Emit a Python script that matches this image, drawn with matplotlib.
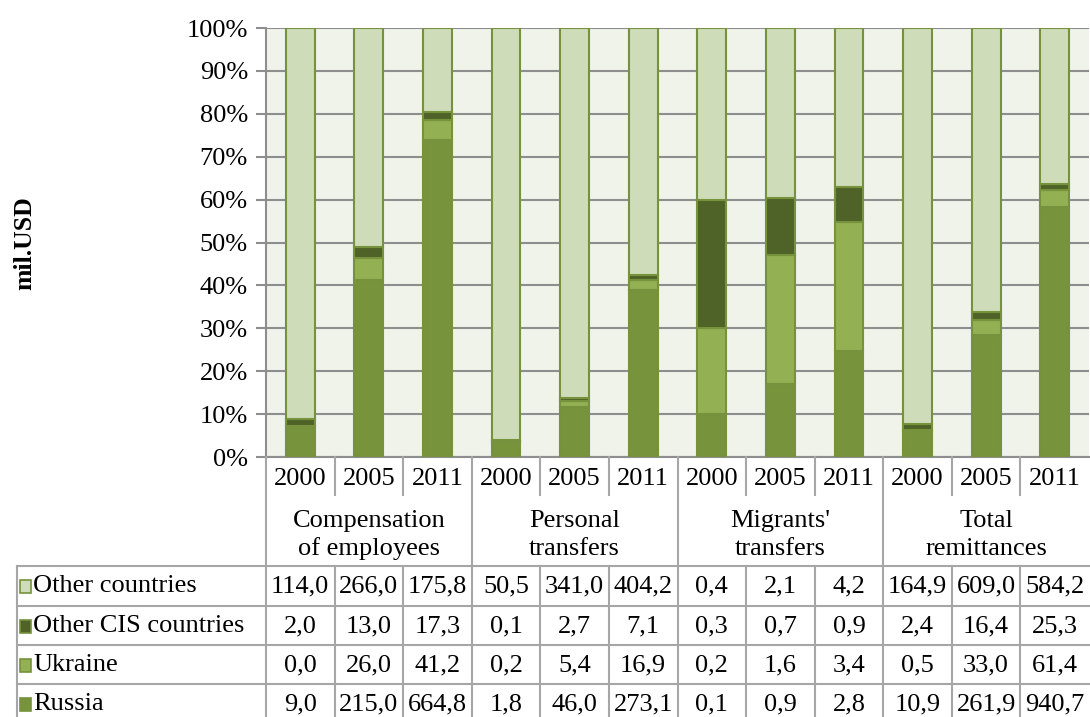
import matplotlib
matplotlib.use("Agg")
import matplotlib.pyplot as plt
from matplotlib.lines import Line2D
from matplotlib.patches import Rectangle
from matplotlib.transforms import blended_transform_factory
import numpy as np

plt.rcParams['font.family'] = ['Liberation Serif', 'DejaVu Serif']

groups = ["Compensation\nof employees", "Personal\ntransfers", "Migrants'\ntransfers", "Total\nremittances"]
years = ["2000", "2005", "2011"]
series_names = ["Other countries", "Other CIS countries", "Ukraine", "Russia"]

other_countries = [114.0, 266.0, 175.8, 50.5, 341.0, 404.2, 0.4, 2.1, 4.2, 164.9, 609.0, 584.2]
other_cis = [2.0, 13.0, 17.3, 0.1, 2.7, 7.1, 0.3, 0.7, 0.9, 2.4, 16.4, 25.3]
ukraine = [0.0, 26.0, 41.2, 0.2, 5.4, 16.9, 0.2, 1.6, 3.4, 0.5, 33.0, 61.4]
russia = [9.0, 215.0, 664.8, 1.8, 46.0, 273.1, 0.1, 0.9, 2.8, 10.9, 261.9, 940.7]

colors = {"Russia": "#77933C", "Ukraine": "#93B053", "Other CIS countries": "#4F6228",
          "Other countries": "#CFDCBA"}
edge = "#76923C"
grid_c = "#8E8E8E"
tab_c = "#A6A6A6"
FS = 19

W, H = 1090, 717
fig = plt.figure(figsize=(W / 100, H / 100), dpi=100)
left_px, right_px, top_px, bot_px = 266, 1089, 28, 457
ax = fig.add_axes([left_px / W, 1 - bot_px / H, (right_px - left_px) / W, (bot_px - top_px) / H])
ax.set_facecolor("#F0F3EA")

vals = {"Russia": np.array(russia), "Ukraine": np.array(ukraine),
        "Other CIS countries": np.array(other_cis), "Other countries": np.array(other_countries)}
total = sum(vals.values())
x = np.arange(len(russia))
bottom = np.zeros(len(russia))
for name in ["Russia", "Ukraine", "Other CIS countries", "Other countries"]:
    pct = vals[name] / total * 100
    ax.bar(x, pct, 0.42, bottom=bottom, color=colors[name], edgecolor=edge, linewidth=1.5, zorder=3)
    bottom = bottom + pct

ax.set_xlim(-0.5, len(russia) - 0.5)
ax.set_ylim(0, 100)
ax.set_yticks(np.arange(0, 101, 10))
ax.set_yticklabels([f"{v}%" for v in range(0, 101, 10)], fontsize=FS)
ax.yaxis.grid(True, color=grid_c, linewidth=1.5, zorder=0)
ax.set_xticks([])
ax.tick_params(axis='y', length=7, width=1.5, color=grid_c, pad=6)
for s in ["top", "right"]:
    ax.spines[s].set_visible(False)
for s in ["left", "bottom"]:
    ax.spines[s].set_color(grid_c)
    ax.spines[s].set_linewidth(1.5)

fig.text(25 / W, 1 - 243 / H, "mil.USD", rotation=90, fontsize=18.5, fontweight='bold',
         ha='center', va='center')

# table
trans = blended_transform_factory(ax.transData, fig.transFigure)
def fy(p):
    return 1 - p / H

def vline(xd, y0, y1):
    fig.add_artist(Line2D([xd, xd], [fy(y0), fy(y1)], transform=trans, color=tab_c, lw=1.5))

def hline_fig(x0p, x1d, yp):
    x0d = ax.transData.inverted().transform((x0p, 0))[0]
    fig.add_artist(Line2D([x0d, x1d], [fy(yp), fy(yp)], transform=trans, color=tab_c, lw=1.5))

n = len(russia)
for k in range(n):
    xd = k - 0.5
    if k % 3 == 0:
        vline(xd, bot_px, H + 2)
    else:
        vline(xd, bot_px, 495)
        vline(xd, 566, H + 2)

for i in range(n):
    fig.text(i, fy(479), years[i % 3], transform=trans, ha='center', va='center', fontsize=FS)
for g, lab in enumerate(groups):
    fig.text(g * 3 + 1, fy(535), lab, transform=trans, ha='center', va='center', fontsize=FS,
             linespacing=1.33)

row_lines = [566, 606, 645, 684]
for yp in row_lines:
    hline_fig(17, n - 0.5, yp)
fig.add_artist(Line2D([17 / W, 17 / W], [fy(566), fy(H + 2)], transform=fig.transFigure,
                      color=tab_c, lw=1.5))

row_centers = [586, 626, 665, 704]
for r, name in enumerate(series_names):
    yc = row_centers[r]
    fig.add_artist(Rectangle((20 / W, fy(yc + 7)), 11 / W, 13 / H, transform=fig.transFigure,
                             facecolor=colors[name], edgecolor=edge, lw=1.2))
    fig.text(33 / W, fy(yc), name, ha='left', va='center', fontsize=FS)
    for i, v in enumerate(vals[name]):
        fig.text(i, fy(yc), f"{v:.1f}".replace('.', ','), transform=trans,
                 ha='center', va='center', fontsize=FS)

fig.savefig("out.png", dpi=100)
